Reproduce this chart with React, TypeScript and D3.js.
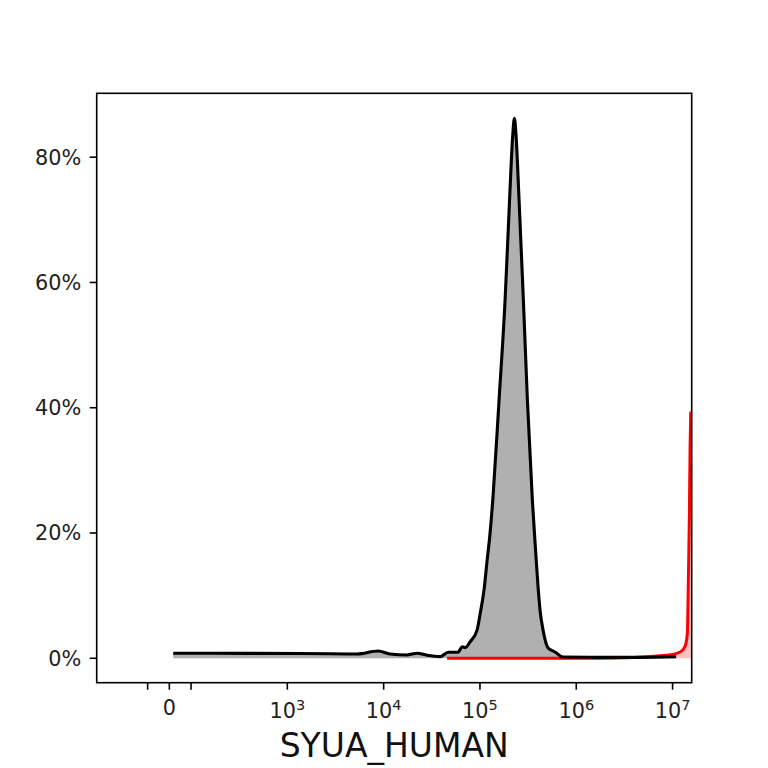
import React, { useRef, useEffect } from 'react';
import * as d3 from 'd3';

// intensity values (symlog axis) and percent of events
const sampleX = [18, 410, 1355, 5300, 8750, 11660, 17500, 22200, 28200, 38500, 46700, 59300, 65300, 70100, 79000, 93300,
  100200, 110400, 118500, 127400, 137000, 158000, 182400, 203000, 218000, 227800, 237000,
  254700, 282400, 310700, 349900, 377700, 401200, 420700, 452000, 510000, 602600, 729000, 1766000, 4590000, 10890000];
const samplePct = [0.8, 0.78, 0.75, 0.69, 1.16, 0.69, 0.53, 0.8, 0.48, 0.26, 0.96, 0.96, 1.85, 1.7, 2.63, 4.5,
  7, 11, 15.5, 20, 26, 41.3, 57.2, 73.2, 83, 86.2, 83.5,
  73.2, 57.2, 41.3, 25.3, 17.3, 11.4, 7.7, 4.5, 1.64, 1.0, 0.2, 0.15, 0.15, 0.25];

const controlX = [45600, 161800, 1766000, 8700000, 11970000, 13490000, 14250000, 14590000, 14950000, 15200000, 15450000];
const controlPct = [0, 0, 0.02, 0.5, 1.0, 1.9, 4, 12.5, 23, 33.8, 39.4];

const xTicks = [-100, 0, 100, 1e3, 1e4, 1e5, 1e6, 1e7];
const yTicks = [0, 20, 40, 60, 80];
const xTitle = 'SYUA_HUMAN';

// matplotlib-like symlog: linear within +-100, log10 outside
const LINTHRESH = 100;
const LINDEC = 0.2253;
const symT = (v: number) => {
  const a = Math.abs(v);
  return a <= LINTHRESH ? (v / LINTHRESH) * LINDEC : Math.sign(v) * (LINDEC + Math.log10(a / LINTHRESH));
};

const FONT = '"DejaVu Sans", sans-serif';

const App = () => {
  const svgRef = useRef<SVGSVGElement>(null);

  useEffect(() => {
    if (!svgRef.current) return;
    const width = 768;
    const height = 768;
    const left = 96.7, right = 691.7, top = 93.3, bottom = 682.7;

    const svg = d3.select(svgRef.current)
      .attr('width', width)
      .attr('height', height)
      .attr('viewBox', `0 0 ${width} ${height}`);
    svg.selectAll('*').remove();

    const x = d3.scaleLinear().domain([symT(-338), symT(1.58e7)]).range([left, right]);
    const y = d3.scaleLinear().domain([-3.9, 90.2]).range([bottom, top]);

    svg.append('defs').append('clipPath').attr('id', 'plotClip')
      .append('rect').attr('x', left).attr('y', top).attr('width', right - left).attr('height', bottom - top);

    const sample = sampleX.map((v, i) => ({ x: v, p: samplePct[i] }));
    const control = controlX.map((v, i) => ({ x: v, p: controlPct[i] }));

    const area = d3.area<{ x: number; p: number }>()
      .x(d => x(symT(d.x)))
      .y0(y(0))
      .y1(d => y(d.p))
      .curve(d3.curveMonotoneX);
    const line = d3.line<{ x: number; p: number }>()
      .x(d => x(symT(d.x)))
      .y(d => y(d.p))
      .curve(d3.curveMonotoneX);

    const plot = svg.append('g').attr('clip-path', 'url(#plotClip)');
    plot.append('path').datum(sample).attr('d', area).attr('fill', '#b0b0b0');
    plot.append('path').datum(control).attr('d', area).attr('fill', 'rgba(255,0,0,0.25)');
    plot.append('path').datum(control).attr('d', line)
      .attr('fill', 'none').attr('stroke', '#ff0000').attr('stroke-width', 3);
    plot.append('path').datum(sample).attr('d', line)
      .attr('fill', 'none').attr('stroke', '#000').attr('stroke-width', 3.1).attr('stroke-linejoin', 'round');

    // frame
    svg.append('rect')
      .attr('x', left).attr('y', top).attr('width', right - left).attr('height', bottom - top)
      .attr('fill', 'none').attr('stroke', '#000').attr('stroke-width', 1.6);

    // y axis
    const yg = svg.append('g');
    yTicks.forEach(t => {
      yg.append('line').attr('x1', left - 7).attr('x2', left).attr('y1', y(t)).attr('y2', y(t))
        .attr('stroke', '#000').attr('stroke-width', 1.6);
      yg.append('text').attr('x', left - 15.5).attr('y', y(t)).attr('dy', '0.36em')
        .attr('text-anchor', 'end').attr('font-family', FONT).attr('font-size', 20.8)
        .attr('fill', '#222').text(`${t}%`);
    });

    // x axis
    const xg = svg.append('g');
    xTicks.forEach(t => {
      const px = x(symT(t));
      xg.append('line').attr('x1', px).attr('x2', px).attr('y1', bottom).attr('y2', bottom + 7)
        .attr('stroke', '#000').attr('stroke-width', 1.6);
      if (t === 0) {
        xg.append('text').attr('x', px).attr('y', 715).attr('text-anchor', 'middle')
          .attr('font-family', FONT).attr('font-size', 20.8).attr('fill', '#222').text('0');
      } else if (t >= 1000) {
        const label = xg.append('text').attr('x', px).attr('y', 718).attr('text-anchor', 'middle')
          .attr('font-family', FONT).attr('font-size', 20.8).attr('fill', '#222');
        label.append('tspan').text('10');
        label.append('tspan').attr('dy', -8).attr('font-size', 14.5).text(String(Math.round(Math.log10(t))));
      }
    });

    svg.append('text')
      .attr('x', (left + right) / 2).attr('y', 757).attr('text-anchor', 'middle')
      .attr('font-family', FONT).attr('font-size', 33).attr('fill', '#111')
      .text(xTitle);
  }, []);

  return <svg ref={svgRef} style={{ position: 'absolute', left: 0, top: 0, background: '#fff' }} />;
};

export default App;
